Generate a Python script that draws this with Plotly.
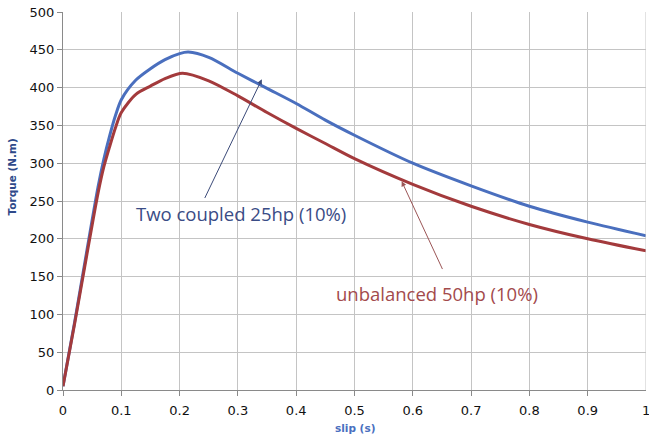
import plotly.graph_objects as go

slip = [0, 0.02, 0.04, 0.06, 0.07, 0.08, 0.09, 0.1, 0.125, 0.15, 0.175, 0.2, 0.215,
        0.25, 0.3, 0.35, 0.4, 0.45, 0.5, 0.6, 0.7, 0.8, 0.9, 1.0]
torque_coupled = [5, 90, 180, 268, 305, 336, 363, 384, 410, 425, 437, 445, 447,
                  440, 419, 399, 379, 357, 337, 300, 270, 243, 222, 204]
slip_unb = [0, 0.02, 0.04, 0.06, 0.07, 0.08, 0.09, 0.1, 0.125, 0.15, 0.175, 0.205,
            0.25, 0.3, 0.35, 0.4, 0.45, 0.5, 0.6, 0.7, 0.8, 0.9, 1.0]
torque_unbal = [5, 88, 175, 260, 295, 322, 347, 367, 391, 402, 412, 419,
                409, 389, 367, 346, 326, 306, 272, 243, 219, 200, 184]

x_ticks = [0, 0.1, 0.2, 0.3, 0.4, 0.5, 0.6, 0.7, 0.8, 0.9, 1]
x_tick_text = ["0", "0.1", "0.2", "0.3", "0.4", "0.5", "0.6", "0.7", "0.8", "0.9", "1"]
y_ticks = [0, 50, 100, 150, 200, 250, 300, 350, 400, 450, 500]

BLUE = "#4a6fbe"
RED = "#a33a3c"

fig = go.Figure()
fig.add_trace(go.Scatter(x=slip, y=torque_coupled, mode="lines",
                         line=dict(color=BLUE, width=3, shape="spline", smoothing=0.8),
                         showlegend=False))
fig.add_trace(go.Scatter(x=slip_unb, y=torque_unbal, mode="lines",
                         line=dict(color=RED, width=3, shape="spline", smoothing=0.8),
                         showlegend=False))

axis_font = dict(family="DejaVu Sans", size=13, color="#111111")
fig.update_xaxes(range=[0, 1], tickvals=x_ticks[:-1], ticktext=x_tick_text[:-1],
                 showgrid=True, gridcolor="#c4c4c4", gridwidth=1,
                 showline=True, linecolor="#8a8a8a", linewidth=1,
                 ticks="outside", ticklen=5, tickcolor="#8a8a8a",
                 ticklabelstandoff=3,
                 tickfont=axis_font, zeroline=False, fixedrange=True)
fig.update_yaxes(range=[0, 500], tickvals=y_ticks,
                 showgrid=True, gridcolor="#c4c4c4", gridwidth=1,
                 showline=True, linecolor="#8a8a8a", linewidth=1,
                 ticks="outside", ticklen=5, tickcolor="#8a8a8a",
                 tickfont=axis_font, zeroline=False, fixedrange=True)

# vertical grid line + tick at x=1 (last tick drawn manually with its label)
fig.add_shape(type="line", x0=1, x1=1, y0=0, y1=500, xref="x", yref="y",
              line=dict(color="#c4c4c4", width=1))
fig.add_shape(type="line", x0=1, x1=1, y0=0, y1=-5, xref="x", yref="y",
              line=dict(color="#8a8a8a", width=1))

annotations = [
    dict(x=0.341, y=411, ax=0.242, ay=252, axref="x", ayref="y",
         xref="x", yref="y", text="", showarrow=True, arrowhead=2, arrowsize=1,
         arrowwidth=1, arrowcolor="#3b4a78"),
    dict(x=0.581, y=276, ax=0.652, ay=158, axref="x", ayref="y",
         xref="x", yref="y", text="", showarrow=True, arrowhead=2, arrowsize=1,
         arrowwidth=1, arrowcolor="#9b5556"),
    dict(x=0.305, y=234, xref="x", yref="y", xanchor="center", yanchor="middle",
         text="Two coupled 25hp (10%)", showarrow=False,
         font=dict(family="Open Sans", size=18.5, color="#3a4c86")),
    dict(x=0.641, y=128, xref="x", yref="y", xanchor="center", yanchor="middle",
         text="unbalanced 50hp (10%)", showarrow=False,
         font=dict(family="Open Sans", size=18.5, color="#a34a4c")),
    dict(x=1, y=-0.053, xref="paper", yref="paper", xanchor="center", yanchor="middle",
         text=x_tick_text[-1], showarrow=False, font=axis_font),
    dict(x=0.501, y=-0.1, xref="paper", yref="paper", xanchor="center", yanchor="middle",
         text="<b>slip (s)</b>", showarrow=False,
         font=dict(family="DejaVu Sans", size=10.5, color="#4a6fc0")),
    dict(x=-0.0875, y=0.565, xref="paper", yref="paper", xanchor="center", yanchor="middle",
         text="<b>Torque (N.m)</b>", showarrow=False, textangle=-90,
         font=dict(family="DejaVu Sans", size=10.5, color="#2f4a8a")),
]

fig.update_layout(width=649, height=438,
                  margin=dict(l=63, r=3, t=12, b=48),
                  paper_bgcolor="white", plot_bgcolor="white",
                  annotations=annotations)

fig.write_html("out.html")
